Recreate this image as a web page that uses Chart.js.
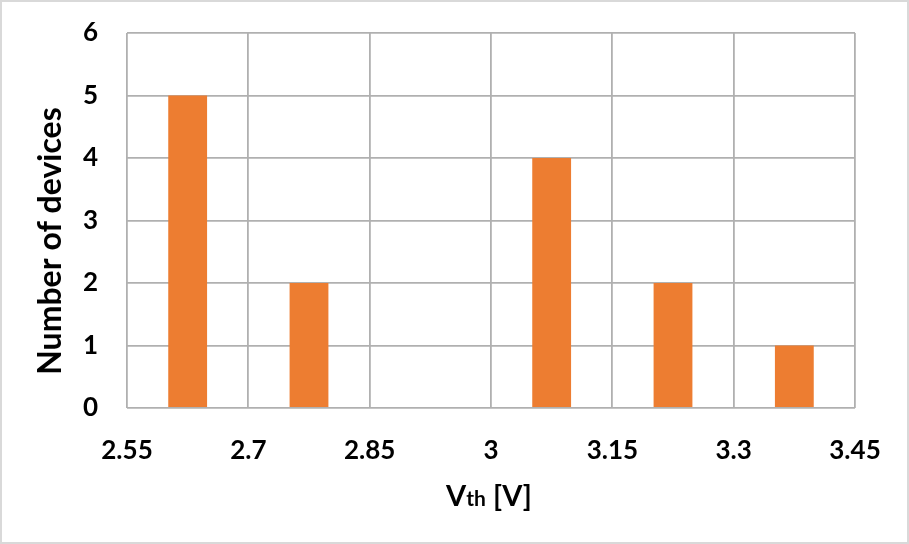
<!DOCTYPE html>
<html>
<head>
<meta charset="utf-8">
<script src="https://cdn.jsdelivr.net/npm/chart.js@4.4.1/dist/chart.umd.min.js"></script>
<style>
  html, body { margin: 0; padding: 0; background: #fff; }
  #wrap { position: relative; width: 909px; height: 544px; }
  #frame { position: absolute; left: 0; top: 0; width: 909px; height: 544px;
           box-sizing: border-box; border: 2px solid #d9d9d9; pointer-events: none; }
</style>
</head>
<body>
<div id="wrap">
  <canvas id="chart" width="909" height="544"></canvas>
  <div id="frame"></div>
</div>
<script>
// bins of 0.15 V, labelled by their centre
const binCenters = ['2.625', '2.775', '2.925', '3.075', '3.225', '3.375'];
const deviceCounts = [5, 2, 0, 4, 2, 1];
const vthTicks = [2.55, 2.7, 2.85, 3, 3.15, 3.3, 3.45];

const FONT = 'Lato, "Open Sans", sans-serif';
const GRID = '#b0b0b0';

// axis titles drawn by hand so "th" can be set smaller
const axisTitles = {
  id: 'axisTitles',
  afterDraw(chart) {
    const ctx = chart.ctx;
    ctx.save();
    ctx.fillStyle = '#000';
    ctx.textBaseline = 'alphabetic';

    // y title
    ctx.save();
    ctx.translate(61, 241);
    ctx.rotate(-Math.PI / 2);
    ctx.font = `bold 32px ${FONT}`;
    ctx.textAlign = 'center';
    ctx.fillText('Number of devices', 0, 0);
    ctx.restore();

    // x title: V + th + [V]
    const big = `bold 29px ${FONT}`;
    const small = `bold 21px ${FONT}`;
    const parts = [['V', big], ['th', small], [' [V]', big]];
    let total = 0;
    for (const [t, f] of parts) { ctx.font = f; total += ctx.measureText(t).width; }
    let x = 489 - total / 2;
    ctx.textAlign = 'left';
    for (const [t, f] of parts) {
      ctx.font = f;
      ctx.fillText(t, x, 506);
      x += ctx.measureText(t).width;
    }
    ctx.restore();
  }
};

new Chart(document.getElementById('chart'), {
  type: 'bar',
  data: {
    labels: binCenters,
    datasets: [{
      data: deviceCounts,
      backgroundColor: '#ED7D31',
      borderWidth: 0,
      categoryPercentage: 1,
      barPercentage: 0.32,
    }],
  },
  options: {
    responsive: false,
    animation: false,
    layout: { padding: { top: 33, right: 54, left: 0, bottom: 0 } },
    plugins: {
      legend: { display: false },
      tooltip: { enabled: false },
    },
    scales: {
      x: { display: false, offset: true },
      xv: {
        type: 'linear',
        position: 'bottom',
        offset: false,
        min: vthTicks[0],
        max: vthTicks[vthTicks.length - 1],
        afterBuildTicks: scale => { scale.ticks = vthTicks.map(v => ({ value: v })); },
        afterFit: scale => { scale.height = 136; scale.paddingTop = 0; },
        grid: { color: GRID, lineWidth: 1.8, drawTicks: false, offset: false },
        border: { display: false },
        ticks: {
          color: '#000',
          padding: 27,
          autoSkip: false,
          maxRotation: 0,
          font: { family: FONT, size: 26, weight: 'bold' },
          callback: v => String(Number(v.toFixed(2))),
        },
      },
      y: {
        min: 0,
        max: 6,
        afterFit: scale => { scale.width = 127; scale.paddingTop = 0; scale.paddingBottom = 0; },
        grid: { color: GRID, lineWidth: 1.8, drawTicks: false },
        border: { display: false },
        ticks: {
          stepSize: 1,
          color: '#000',
          padding: 29,
          font: { family: FONT, size: 26, weight: 'bold' },
        },
      },
    },
  },
  plugins: [axisTitles],
});
</script>
</body>
</html>
